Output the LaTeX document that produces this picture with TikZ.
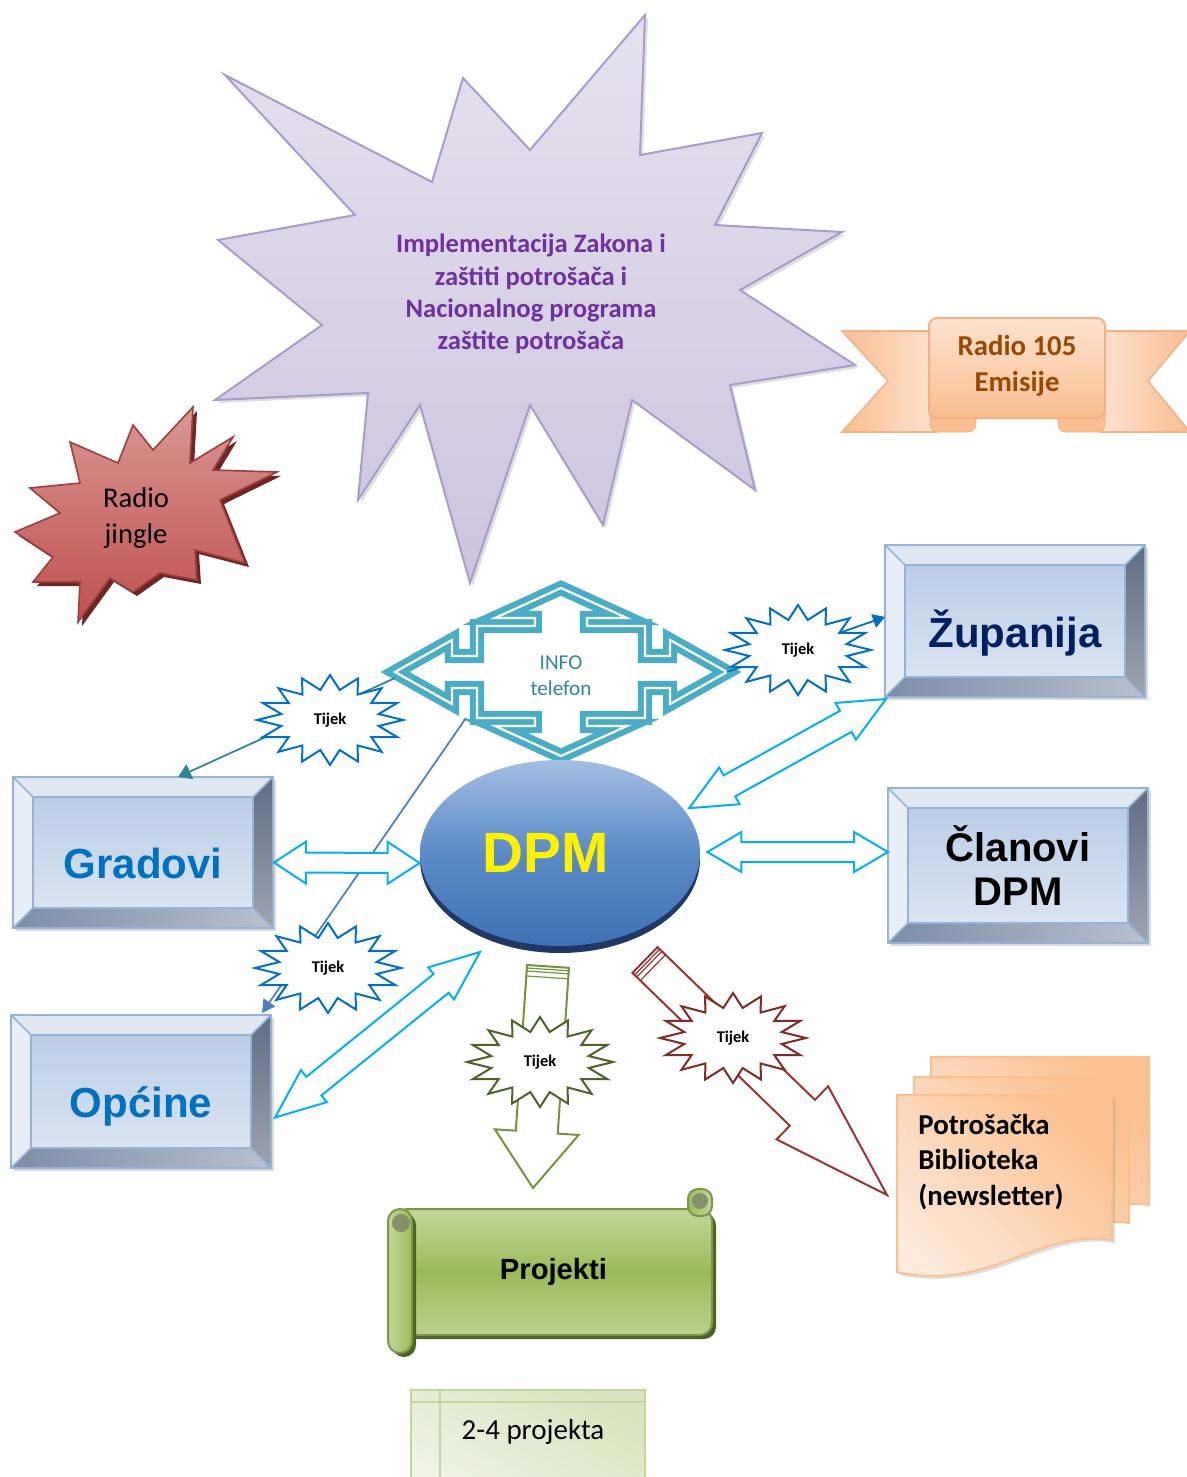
\documentclass[tikz,border=0pt]{standalone}
\usepackage{fontspec}
\setmainfont{Carlito}
\newfontfamily\arialfont{Liberation Sans}
\usetikzlibrary{positioning,calc,shapes.geometric,arrows.meta,shadows}

\definecolor{lav}{HTML}{E6E1EF}
\definecolor{lavdark}{HTML}{CDC3DF}
\definecolor{lavline}{HTML}{A99CCB}
\definecolor{purpletext}{HTML}{7030A0}
\definecolor{jingle}{HTML}{C0504D}
\definecolor{jinglelight}{HTML}{D99694}
\definecolor{jingledark}{HTML}{6E2523}
\definecolor{peach}{HTML}{FCE2CE}
\definecolor{peachdark}{HTML}{F9BE92}
\definecolor{peachline}{HTML}{F4B183}
\definecolor{radiotext}{HTML}{984807}
\definecolor{bevline}{HTML}{95B3D7}
\definecolor{bevtop}{HTML}{DFE7F3}
\definecolor{bevmid}{HTML}{B5CAE5}
\definecolor{bevleft}{HTML}{E8EEF7}
\definecolor{bevright}{HTML}{5E6C84}
\definecolor{bevbottom}{HTML}{7C8DA7}
\definecolor{bluetext}{HTML}{0070C0}
\definecolor{navy}{HTML}{002060}
\definecolor{dpmtop}{HTML}{A3BFE2}
\definecolor{dpmmid}{HTML}{5B8AC7}
\definecolor{dpmbot}{HTML}{3F71B4}
\definecolor{dpmrim}{HTML}{1F3864}
\definecolor{infoteal}{HTML}{4BACC6}
\definecolor{infotext}{HTML}{31859C}
\definecolor{cyanline}{HTML}{00B0F0}
\definecolor{olive}{HTML}{4F6228}
\definecolor{olivearrow}{HTML}{76923C}
\definecolor{darkred}{HTML}{7F2B28}
\definecolor{redarrow}{HTML}{953735}
\definecolor{steel}{HTML}{4F81BD}
\definecolor{scroll}{HTML}{9BBB59}
\definecolor{scrolllight}{HTML}{C3D69B}
\definecolor{palegreen}{HTML}{D7E4BD}
\definecolor{palegreenlight}{HTML}{EEF3E4}
\definecolor{page}{HTML}{FAC090}
\definecolor{pagelight}{HTML}{FDEADA}

\tikzset{
  bevelbox/.style={draw=bevline, line width=1.2pt, inner sep=0pt, outer sep=0pt,
    minimum width=130pt, top color=bevmid, bottom color=bevtop,
    font=\arialfont\bfseries\fontsize{21}{24}\selectfont,
    drop shadow={shadow xshift=1.5pt, shadow yshift=-1.5pt, opacity=0.3},
    path picture={
      \path (path picture bounding box.north west) coordinate (bnw)
            (path picture bounding box.north east) coordinate (bne)
            (path picture bounding box.south west) coordinate (bsw)
            (path picture bounding box.south east) coordinate (bse);
      \path ([shift={(10pt,-10pt)}]bnw) coordinate (inw)
            ([shift={(-10pt,-10pt)}]bne) coordinate (ine)
            ([shift={(10pt,10pt)}]bsw) coordinate (isw)
            ([shift={(-10pt,10pt)}]bse) coordinate (ise);
      \fill[bevtop] (bnw) -- (bne) -- (ine) -- (inw) -- cycle;
      \fill[bevleft] (bnw) -- (inw) -- (isw) -- (bsw) -- cycle;
      \shade[top color=bevright, bottom color=bevright!55!white!80!gray]
        (bne) -- (bse) -- (ise) -- (ine) -- cycle;
      \shade[left color=bevbottom, right color=bevbottom!55!white]
        (bsw) -- (isw) -- (ise) -- (bse) -- cycle;
      \draw[bevline, line width=0.8pt] (inw) rectangle (ise)
        (bnw) -- (inw) (bne) -- (ine) (bsw) -- (isw) (bse) -- (ise);
    }},
  lowtext/.style={text height=26pt, text depth=0pt},
  burst/.style={fill=white, line width=1pt, line join=miter},
  tijektext/.style={font=\fontsize{8.2}{10}\selectfont\bfseries, inner sep=0pt},
  dbl/.style={draw=cyanline, fill=white, line width=1pt, line join=miter},
  conn/.style={line width=0.9pt},
}

\newcommand\tijek[3]{%
  \draw[burst, draw=#3, shift={(#2)}] plot[samples at={0,...,31}, variable=\bk]
    ({73*(mod(\bk,2)==0 ? 1 : 0.68)*cos(\bk*11.25)},
     {45*(mod(\bk,2)==0 ? 1 : 0.68)*sin(\bk*11.25)}) -- cycle;
  \node[tijektext] (#1) at (#2) {Tijek};
}
\newcommand\dblarrow[5]{%
  \path ($(#1)!#5!(#2)$) coordinate (ha) ($(#2)!#5!(#1)$) coordinate (hb);
  \draw[dbl] (#1) -- ($(ha)!#4!90:(#2)$) -- ($(ha)!#3!90:(#2)$)
    -- ($(hb)!#3!-90:(#1)$) -- ($(hb)!#4!-90:(#1)$) -- (#2)
    -- ($(hb)!#4!90:(#1)$) -- ($(hb)!#3!90:(#1)$)
    -- ($(ha)!#3!-90:(#2)$) -- ($(ha)!#4!-90:(#2)$) -- cycle;
}
\newcommand\blockarrow[6]{%
  \path ($(#2)!#5!(#1)$) coordinate (hb);
  \draw[#6] ($(#1)!#3!90:(#2)$) -- ($(hb)!#3!-90:(#1)$) -- ($(hb)!#4!-90:(#1)$)
    -- (#2) -- ($(hb)!#4!90:(#1)$) -- ($(hb)!#3!90:(#1)$) -- ($(#1)!#3!-90:(#2)$) -- cycle;
  \foreach \d in {1.5pt,3pt,5.5pt}{
    \path ($(#1)!\d!(#2)$) coordinate (sc);
    \draw[#6, line width=0.6pt] ($(sc)!#3!90:(#2)$) -- ($(sc)!#3!-90:(#2)$);
  }
}

\begin{document}
\begin{tikzpicture}[x=0.5pt, y=-0.5pt]
\useasboundingbox (0,0) rectangle (1187,1477);

\draw[draw=lavline, line width=1pt, top color=lav, bottom color=lavdark,
      drop shadow={shadow xshift=1.5pt, shadow yshift=-1.5pt, opacity=0.25}]
  (225,75) -- (432,182) -- (463,78) -- (530,150) -- (645,15) -- (640,155)
  -- (762,133) -- (715,225) -- (842,232) -- (740,290) -- (855,365) -- (730,385)
  -- (755,490) -- (632,400) -- (603,525) -- (530,405) -- (470,583) -- (420,405)
  -- (358,500) -- (368,393) -- (215,400) -- (322,325) -- (218,240) -- (355,215) -- cycle;
\node[font=\fontsize{13.3}{16.2}\selectfont\bfseries, text=purpletext, align=center]
  (zakon) at (531,294) {Implementacija Zakona i\\zaštiti potrošača i\\Nacionalnog programa\\zaštite potrošača};

\draw[draw=jingle!80!black, line width=0.8pt, top color=jinglelight, bottom color=jingle,
      drop shadow={shadow xshift=2pt, shadow yshift=-2pt, fill=jingledark, opacity=1}]
  (70,442) -- (118,463) -- (133,425) -- (153,450) -- (193,407) -- (190,463)
  -- (233,437) -- (213,470) -- (277,472) -- (220,500) -- (245,563) -- (195,550)
  -- (197,580) -- (160,573) -- (133,592) -- (110,578) -- (78,622) -- (80,582)
  -- (33,582) -- (53,557) -- (15,532) -- (60,513) -- (30,488) -- (80,483) -- cycle;
\node[font=\fontsize{14.3}{18}\selectfont, align=center] (jingle) at (136,518) {Radio\\jingle};

\draw[peachline, line width=0.8pt, left color=peachdark, right color=peach]
  (842,331) -- (936,331) -- (936,432) -- (842,432) -- (888,381) -- cycle;
\draw[peachline, line width=0.8pt, left color=peach, right color=peachdark]
  (1100,331) -- (1190,331) -- (1148,381) -- (1190,432) -- (1100,432) -- cycle;
\draw[peachline, fill=peachdark, rounded corners=4pt] (930,406) rectangle (976,432);
\draw[peachline, fill=peachdark, rounded corners=4pt] (1058,406) rectangle (1105,432);
\draw[peachline, line width=1pt, rounded corners=4pt, top color=peach, bottom color=peachdark]
  (929,318) rectangle (1105,418);
\node[font=\fontsize{14.4}{18}\selectfont\bfseries, text=radiotext, align=center]
  (radio) at (1017,366) {Radio 105\\Emisije};

\coordinate (infoC) at (561,672);
\draw[infoteal, line width=3pt, double=white, double distance=1.1pt, line join=miter,
      fill=white, shift={(infoC)}]
  (0,-84) -- (66,-54) -- (26,-54) -- (26,-46) -- (84,-46) -- (84,-16) -- (109,-16)
  -- (109,-32) -- (166,0) -- (109,32) -- (109,16) -- (84,16) -- (84,46) -- (26,46)
  -- (26,54) -- (66,54) -- (0,84) -- (-66,54) -- (-26,54) -- (-26,46) -- (-84,46)
  -- (-84,16) -- (-109,16) -- (-109,32) -- (-166,0) -- (-109,-32) -- (-109,-16)
  -- (-84,-16) -- (-84,-46) -- (-26,-46) -- (-26,-54) -- (-66,-54) -- cycle;
\node[font=\fontsize{10.6}{13}\selectfont, text=infotext, align=center] (info) at ($(infoC)+(0,4)$) {INFO\\telefon};
\coordinate (infoW) at ($(infoC)+(-166,6)$);
\coordinate (infoE) at ($(infoC)+(166,0)$);

\node[bevelbox, lowtext, text=navy, minimum height=76pt] (zupanija) at (1015,621) {Županija};
\node[bevelbox, lowtext, text=bluetext, minimum height=75.5pt] (gradovi) at (143,852.5) {Gradovi};
\node[bevelbox, align=center, minimum height=77.5pt,
      font=\arialfont\bfseries\fontsize{20}{22}\selectfont] (clanovi) at (1018,865.5) {Članovi\\DPM};
\node[bevelbox, lowtext, text=bluetext, minimum height=76.5pt] (opcine) at (141,1091.5) {Općine};

\fill[dpmrim] (560,859) ellipse [x radius=70pt, y radius=47pt];
\node[ellipse, minimum width=140pt, minimum height=93pt, inner sep=0pt,
      top color=dpmtop, bottom color=dpmbot, middle color=dpmmid,
      font=\arialfont\bfseries\fontsize{28.4}{30}\selectfont, text=yellow]
  (dpm) at (560,853) {DPM\hspace*{14pt}};

\draw[conn, infotext, -{Triangle[length=6.5pt, width=8pt]}] (infoW) -- ($(gradovi.north)+(35,0)$);
\draw[conn, bluetext, -{Triangle[length=6pt, width=7pt]}] (infoE) -- ($(zupanija.west)+(0,-4)$);
\draw[conn, steel, -{Triangle[length=6.5pt, width=7pt]}] ($(infoC)+(-95,46)$) -- ($(opcine.north east)+(-9,-2)$);

\coordinate (gA) at ($(gradovi.east)+(1,10)$);
\coordinate (gB) at ($(dpm.west)+(0,10)$);
\dblarrow{gA}{gB}{5pt}{10.5pt}{16pt}
\coordinate (cA) at ($(dpm.east)+(7,-1)$);
\coordinate (cB) at ($(clanovi.west)+(0,-13.5)$);
\dblarrow{cA}{cB}{5pt}{10pt}{17pt}
\coordinate (zA) at ($(dpm.20)+(6,0)$);
\coordinate (zB) at ($(zupanija.south west)+(1,2)$);
\dblarrow{zA}{zB}{6pt}{10.5pt}{23pt}
\coordinate (oA) at ($(dpm.center)+(-80,99)$);
\coordinate (oB) at ($(opcine.east)+(4,26)$);
\dblarrow{oA}{oB}{6pt}{10.3pt}{25pt}

\node[draw=scroll!80!black, line width=1pt, rounded corners=6pt, minimum width=158.5pt,
      minimum height=63pt, top color=scrolllight, bottom color=scrolllight!80!scroll, middle color=scroll,
      drop shadow={shadow xshift=2pt, shadow yshift=-2pt, fill=olive, opacity=1},
      font=\arialfont\bfseries\fontsize{14.6}{17}\selectfont]
  (projekti) at (553.5,1272) {Projekti};
\draw[scroll!80!black, line width=1pt, rounded corners=5pt, left color=scroll, right color=scrolllight]
  (688,1189) rectangle (712,1216);
\fill[olive!70] (700,1201) circle [radius=4pt];
\draw[scroll!80!black, line width=1pt, rounded corners=6pt, left color=scrolllight, right color=scroll,
      drop shadow={shadow xshift=2pt, shadow yshift=-2pt, fill=olive, opacity=1}]
  (388,1209) rectangle (412,1353);
\fill[olive!70] (401,1223) circle [radius=4.5pt];

\draw[scrolllight, line width=1pt, top color=palegreen, bottom color=palegreenlight, shading angle=-30]
  (411,1390) rectangle (645,1490);
\draw[scrolllight, line width=0.8pt] (411,1402) -- (645,1402) (440,1390) -- (440,1490);
\node[font=\fontsize{14.5}{17}\selectfont] (brojprojekata) at (533,1432) {2-4 projekta};

\draw[page, line width=1pt, top color=page, bottom color=pagelight, shading angle=-45]
  (931,1057) -- (1149,1057) -- (1149,1205) .. controls (1080,1195) and (1030,1250) .. (931,1237) -- cycle;
\draw[page, line width=1pt, top color=page, bottom color=pagelight, shading angle=-45]
  (914,1077) -- (1129,1077) -- (1129,1223) .. controls (1060,1213) and (1010,1268) .. (914,1255) -- cycle;
\draw[page, line width=1pt, top color=page, bottom color=pagelight, shading angle=-45,
      drop shadow={shadow xshift=1.5pt, shadow yshift=-1.5pt, opacity=0.25}]
  (897,1095) -- (1112,1095) -- (1112,1240) .. controls (1040,1228) and (990,1292) .. (897,1272) -- cycle;
\node[font=\fontsize{14.4}{17.8}\selectfont\bfseries, align=left, anchor=west, inner sep=0pt]
  (biblioteka) at (918,1162) {Potrošačka\\Biblioteka\\(newsletter)};

\coordinate (gT) at ($(dpm.south)+(-12,20)$);
\coordinate (gP) at ($(projekti.north)+(-20.5,-20)$);
\blockarrow{gT}{gP}{10.5pt}{21pt}{28pt}{draw=olivearrow, fill=white, line width=1pt}
\coordinate (rT) at ($(dpm.center)+(85,107)$);
\coordinate (rP) at ($(biblioteka.west)+(-31,33)$);
\blockarrow{rT}{rP}{9pt}{18.5pt}{59pt}{draw=redarrow, fill=white, line width=1pt}

\tijek{tijekA}{330,720}{bluetext}
\tijek{tijekB}{798,650}{bluetext}
\tijek{tijekC}{328,968}{bluetext}
\tijek{tijekD}{540,1062}{olive}
\tijek{tijekE}{733,1038}{darkred}
\end{tikzpicture}
\end{document}
